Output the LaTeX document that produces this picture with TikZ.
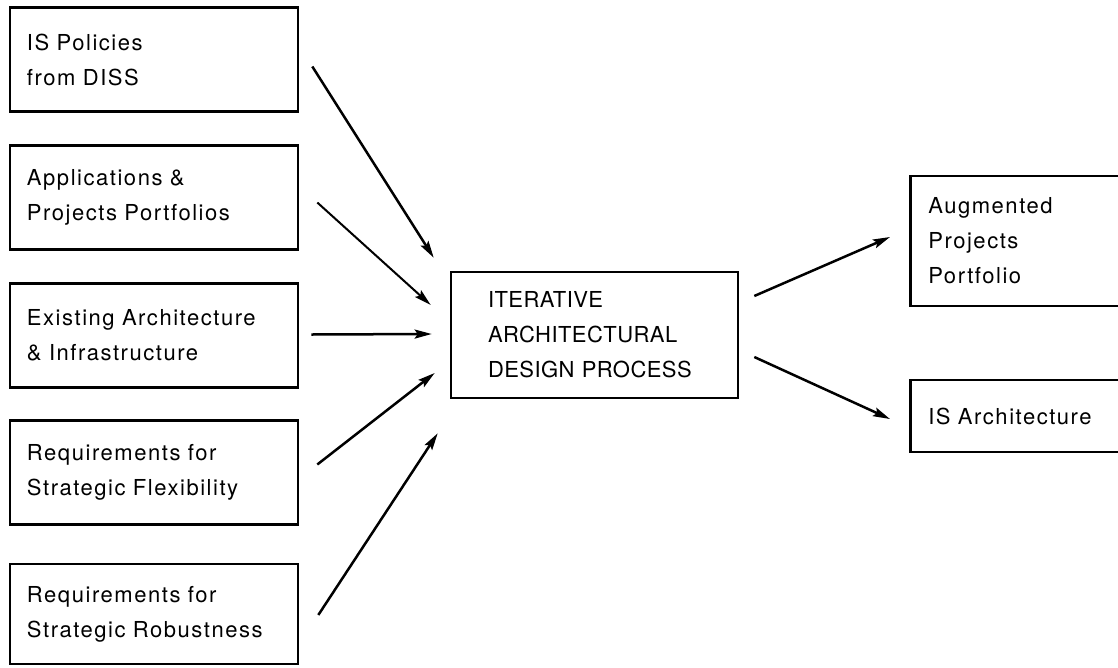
\documentclass[tikz,border=0pt]{standalone}
\usepackage{fontspec}
\setmainfont{TeX Gyre Heros}
\newfontfamily\widefont[LetterSpace=7]{TeX Gyre Heros}
\newfontfamily\capsfont[LetterSpace=2]{TeX Gyre Heros}
\usetikzlibrary{arrows.meta}
\usetikzlibrary{calc}

\begin{document}
\begin{tikzpicture}[x=1pt,y=-1pt]
    \useasboundingbox (0,0) rectangle (1118,667);
    \clip (0,0) rectangle (1118,667);

    % input boxes on the left
    \begin{scope} [every node/.style={rectangle,draw,line width=2.6pt,
            inner xsep=17pt,text width=254pt,minimum height=104pt,align=left,
            font=\widefont\fontsize{22}{35}\selectfont}]
        \node (pol) at (154,59.5) {IS Policies\\from DISS};
        \node (app) at (154,197.5) {Applications \&\\Projects Portfolios};
        \node (exi) at (154,335.5) {Existing Architecture\\\& Infrastructure};
        \node (flx) at (154,472.5) {Requirements for\\Strategic Flexibility};
        \node[minimum height=100pt] (rob) at (154,614) {Requirements for\\Strategic Robustness};
    \end{scope}

    % process box
    \node [rectangle,draw,line width=2.6pt,inner xsep=37pt,text width=213pt,
        minimum height=126pt,align=left,font=\capsfont\fontsize{22}{35}\selectfont]
        (iad) at (594.5,335) {ITERATIVE\\ARCHITECTURAL\\DESIGN PROCESS};

    % outputs on the right
    \begin{scope} [every node/.style={rectangle,draw,line width=2.6pt,anchor=west,
            inner xsep=18pt,text width=204pt,align=left,
            font=\widefont\fontsize{22}{35}\selectfont}]
        \node[minimum height=130pt] (aug) at (909,241) {Augmented\\Projects\\Portfolio};
        \node[minimum height=72pt] (isa) at (909,416) {IS Architecture};
    \end{scope}

    \begin{scope}[>={Stealth[length=17pt,width=9pt,inset=3pt]},
            every edge/.style={draw,line width=2.5pt}]
        \path [->] ($(pol.east)+(13,7)$) edge ($(iad.north west)+(-16,-13)$);
        \path [->] ($(app.east)+(18,5)$) edge[line width=2pt] ($(iad.west)+(-19,-30)$);
        \path [->] ($(exi.east)+(12,-1)$) edge ($(iad.west)+(-18,-1)$);
        \path [->] ($(flx.east)+(18,-8)$) edge ($(iad.west)+(-15,38)$);
        \path [->] ($(rob.east)+(19,1)$) edge ($(iad.south west)+(-12,34)$);
        \path [->] ($(iad.east)+(15,-39)$) edge ($(aug.west)+(-19,-4)$);
        \path [->] ($(iad.east)+(15,22)$) edge ($(isa.west)+(-19,3)$);
    \end{scope}
\end{tikzpicture}
\end{document}
